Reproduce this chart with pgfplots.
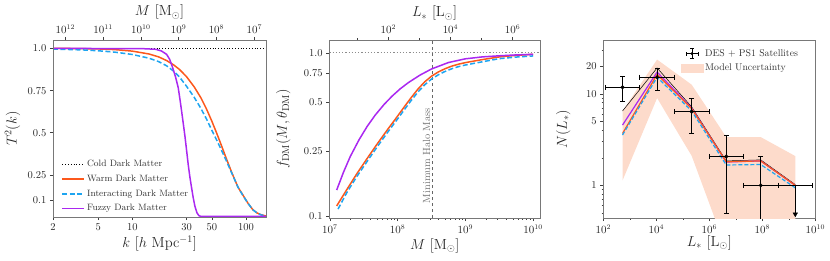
\documentclass[border=0pt]{standalone}
\usepackage{pgfplots}
\pgfplotsset{compat=1.18}
\definecolor{cOrange}{RGB}{252,88,28}
\definecolor{cBlue}{RGB}{30,165,240}
\definecolor{cPurple}{RGB}{170,40,240}
\definecolor{cBand}{RGB}{253,219,203}
\definecolor{cFrame}{RGB}{120,120,120}
\pgfplotsset{
  base/.style={
    scale only axis, width=212pt, height=177pt,
    axis line style={cFrame, line width=0.8pt},
    tick style={black!75, line width=0.6pt},
    tick align=outside, major tick length=3.2pt, minor tick length=1.8pt,
    tick label style={font=\fontsize{10.5}{12}\selectfont, text=black!85},
    label style={font=\fontsize{14.6}{17}\selectfont, text=black!85},
    tick pos=left,
  },
}
\begin{document}
\begin{tikzpicture}
\path[use as bounding box] (0pt,0pt) rectangle (830pt,260pt);

% ---------------- Panel 1 ----------------
\begin{axis}[base, at={(53pt,43pt)}, anchor=south west, width=213pt, height=177pt,
  xmode=log, xmin=2, xmax=150, ymin=0, ymax=1.05,
  xtick={2,5,10,30,50,100}, xticklabels={2,5,10,30,50,100},
  ytick={0.1,0.25,0.5,0.75,1}, yticklabels={0.1,0.25,0.5,0.75,1.0},
  xlabel={$k$ [$h$ Mpc$^{-1}$]}, ylabel={$T^2(k)$},
  xlabel style={at={(axis description cs:0.5,-0.15)}, anchor=center},
  ylabel style={at={(axis description cs:-0.19,0.5)}, anchor=center},
  legend cell align=left,
  legend style={draw=none, fill=none, at={(axis description cs:0.035,0.008)}, anchor=south west,
    font=\fontsize{9.2}{10}\selectfont, text=black!80, row sep=2.8pt, inner sep=1pt},
]
\addlegendimage{legend image code/.code={\draw[black, line width=0.8pt, dotted] (0pt,0pt) -- (22pt,0pt);}}
\addlegendentry{Cold Dark Matter}
\addlegendimage{legend image code/.code={\draw[cOrange, line width=1.5pt] (0pt,0pt) -- (22pt,0pt);}}
\addlegendentry{Warm Dark Matter}
\addlegendimage{legend image code/.code={\draw[cBlue, line width=1.5pt, dash pattern=on 5pt off 2.5pt] (0pt,0pt) -- (22pt,0pt);}}
\addlegendentry{Interacting Dark Matter}
\addlegendimage{legend image code/.code={\draw[cPurple, line width=1.5pt] (0pt,0pt) -- (22pt,0pt);}}
\addlegendentry{Fuzzy Dark Matter}
\addplot[black, line width=0.8pt, dotted, forget plot] coordinates {(2,1) (150,1)};
\addplot[cOrange, line width=1.5pt, forget plot] coordinates {
(2,1.000) (3,0.9995) (4,0.998) (5,0.997) (7,0.993) (10,0.984) (14,0.967) (17,0.950)
(20,0.928) (23,0.903) (26,0.875) (30,0.832) (35,0.772) (40,0.708) (45,0.639) (50,0.569)
(55,0.500) (60,0.434) (67,0.348) (75,0.263) (85,0.177) (95,0.125) (100,0.100) (105,0.078)
(115,0.043) (125,0.024) (135,0.014) (150,0.006)};
\addplot[cBlue, line width=1.5pt, dash pattern=on 5pt off 2.5pt, forget plot] coordinates {
(2,0.996) (3,0.993) (4,0.990) (5,0.986) (7,0.978) (10,0.964) (14,0.942) (17,0.922)
(20,0.897) (23,0.866) (26,0.830) (30,0.775) (35,0.710) (40,0.645) (45,0.580) (50,0.515)
(55,0.458) (60,0.405) (67,0.335) (75,0.260) (85,0.177) (95,0.122) (100,0.100) (105,0.078)
(115,0.043) (125,0.024) (135,0.013) (150,0.005)};
\addplot[cPurple, line width=1.5pt, forget plot] coordinates {
(2,1.0) (12,0.999) (16,0.995) (18,0.985) (20,0.965) (21.3,0.935) (22.5,0.89) (24,0.83)
(25.3,0.768) (26.2,0.70) (27.1,0.629) (28.1,0.55) (29,0.48) (30,0.395) (31,0.311)
(32.1,0.235) (33.2,0.173) (34.3,0.115) (35.5,0.064) (37,0.025) (38.5,0.008) (40,0.004) (150,0.004)};
\end{axis}
% top scale of panel 1: -log10(M)
\begin{axis}[base, at={(53pt,43pt)}, anchor=south west, width=213pt, height=177pt,
  xmin=-12.325, xmax=-6.69, ymin=0, ymax=1,
  xtick pos=right, xticklabel pos=right, ytick=\empty,
  xtick={-12,-11,-10,-9,-8,-7},
  xticklabels={$10^{12}$,$10^{11}$,$10^{10}$,$10^{9}$,$10^{8}$,$10^{7}$},
  xlabel={$M$ [M$_\odot$]},
  xlabel style={at={(axis description cs:0.5,1.157)}, anchor=center},
]
\addplot[draw=none] coordinates {(-9,0.5)};
\end{axis}

% ---------------- Panel 2 ----------------
\begin{axis}[base, at={(329.3pt,42pt)}, anchor=south west, width=210.7pt, height=178pt,
  xmode=log, ymode=log, xmin=9.8e6, xmax=1.26e10, ymin=0.097, ymax=1.2,
  xtick={1e7,1e8,1e9,1e10},
  ytick={0.1,0.25,0.5,0.75,1}, yticklabels={0.1,0.25,0.5,0.75,1.0},
  xlabel={$M$ [M$_\odot$]}, ylabel={$f_{\mathrm{DM}}(M,\theta_{\mathrm{DM}})$},
  xlabel style={at={(axis description cs:0.5,-0.155)}, anchor=center},
  ylabel style={at={(axis description cs:-0.218,0.5)}, anchor=center},
]
\addplot[black!45, line width=1.2pt, dotted] coordinates {(9.8e6,1) (1.26e10,1)};
\addplot[black!60, dashed, line width=0.6pt] coordinates {(3.2e8,0.097) (3.2e8,1.2)};
\node[rotate=90, anchor=south west, font=\fontsize{10.4}{12}\selectfont, text=black!55, inner sep=1.5pt]
  at (axis cs:3.2e8,0.117) {Minimum Halo Mass};
\addplot[cOrange, line width=1.5pt] coordinates {
(1.259e7,0.115) (1.778e7,0.145) (2.512e7,0.182) (3.548e7,0.225) (5.012e7,0.277) (7.079e7,0.338)
(1e8,0.41) (1.259e8,0.468) (1.585e8,0.532) (1.995e8,0.60) (2.512e8,0.665) (3.162e8,0.72)
(3.981e8,0.764) (5.012e8,0.80) (6.310e8,0.83) (7.943e8,0.853) (1e9,0.872) (1.778e9,0.91)
(3.162e9,0.945) (5.623e9,0.966) (1e10,0.98)};
\addplot[cBlue, line width=1.5pt, dash pattern=on 5pt off 2.5pt] coordinates {
(1.318e7,0.110) (1.778e7,0.139) (2.512e7,0.175) (3.548e7,0.216) (5.012e7,0.266) (7.079e7,0.325)
(1e8,0.394) (1.259e8,0.449) (1.585e8,0.511) (1.995e8,0.576) (2.512e8,0.638) (3.162e8,0.691)
(3.981e8,0.734) (5.012e8,0.77) (6.310e8,0.80) (7.943e8,0.824) (1e9,0.843) (1.778e9,0.882)
(3.162e9,0.922) (5.623e9,0.943) (1e10,0.958)};
\addplot[cPurple, line width=1.5pt] coordinates {
(1.259e7,0.144) (1.585e7,0.185) (1.995e7,0.231) (2.692e7,0.293) (3.548e7,0.354) (4.677e7,0.416)
(6.310e7,0.483) (8.318e7,0.544) (1.096e8,0.603) (1.445e8,0.658) (2.138e8,0.731) (3.162e8,0.797)
(5.623e8,0.873) (1e9,0.92) (1.778e9,0.945) (3.162e9,0.96) (5.623e9,0.972) (1e10,0.98)};
\end{axis}
\begin{axis}[base, at={(329.3pt,42pt)}, anchor=south west, width=210.7pt, height=178pt,
  xmode=log, xmin=1.27, xmax=7.55e6, ymin=0, ymax=1,
  xtick pos=right, xticklabel pos=right, ytick=\empty,
  xtick={1e2,1e4,1e6}, minor xtick={1e1,1e3,1e5},
  xlabel={$L_*$ [L$_\odot$]},
  xlabel style={at={(axis description cs:0.5,1.15)}, anchor=center},
]
\addplot[draw=none] coordinates {(1e3,0.5)};
\end{axis}

% ---------------- Panel 3 ----------------
\begin{axis}[base, at={(603.3pt,42pt)}, anchor=south west, width=212pt, height=178pt,
  xmode=log, ymode=log, xmin=100, xmax=1e10, ymin=0.44, ymax=38.8,
  xtick={1e2,1e4,1e6,1e8,1e10}, minor xtick={1e3,1e5,1e7,1e9},
  ytick={1,5,10,20}, yticklabels={1,5,10,20},
  minor ytick={0.5,0.6,0.7,0.8,0.9,2,3,4,6,7,8,9,30},
  xlabel={$L_*$ [L$_\odot$]}, ylabel={$N(L_*)$},
  xlabel style={at={(axis description cs:0.5,-0.14)}, anchor=center},
  ylabel style={at={(axis description cs:-0.189,0.5)}, anchor=center},
  legend cell align=left,
  legend style={draw=none, fill=none, at={(axis description cs:0.36,0.965)}, anchor=north west,
    font=\fontsize{9.8}{11}\selectfont, text=black!80, row sep=2pt, inner sep=1pt},
]
\addlegendimage{legend image code/.code={
  \draw[black, line width=0.8pt] (5pt,0pt) -- (17pt,0pt);
  \draw[black, line width=0.8pt] (11pt,-5pt) -- (11pt,5pt);
  \draw[black, line width=0.8pt] (5pt,-2pt) -- (5pt,2pt);
  \draw[black, line width=0.8pt] (17pt,-2pt) -- (17pt,2pt);
  \draw[black, line width=0.8pt] (9pt,-5pt) -- (13pt,-5pt);
  \draw[black, line width=0.8pt] (9pt,5pt) -- (13pt,5pt);
  \fill[black] (11pt,0pt) circle (1.3pt);}}
\addlegendentry{DES + PS1 Satellites}
\addlegendimage{legend image code/.code={\fill[cBand] (0pt,-4pt) rectangle (22pt,4pt);}}
\addlegendentry{Model Uncertainty}
% band
\addplot[fill=cBand, draw=none, forget plot] coordinates {
(531,6.5) (1.072e4,23.7) (2.163e5,12.6) (4.365e6,3.37) (8.71e7,3.37) (1.758e9,2.09)
(1.758e9,0.1) (8.71e7,0.1) (4.365e6,0.2) (2.163e5,2.1) (1.072e4,9.0) (531,1.13)} -- cycle;
% models
\addplot[black, line width=0.5pt, forget plot] coordinates {
(531,6.5) (1.072e4,19.2) (2.163e5,7.2) (4.365e6,1.85) (8.71e7,1.9) (1.758e9,1.02)};
\addplot[cPurple, line width=1.2pt, forget plot] coordinates {
(531,4.56) (1.072e4,17.3) (2.163e5,7.0) (4.365e6,1.8) (8.71e7,1.85) (1.758e9,1.0)};
\addplot[cOrange, line width=1.2pt, forget plot] coordinates {
(531,3.69) (1.072e4,16.3) (2.163e5,6.9) (4.365e6,1.81) (8.71e7,1.85) (1.758e9,1.0)};
\addplot[cBlue, line width=1.2pt, dash pattern=on 4pt off 2pt, forget plot] coordinates {
(531,3.55) (1.072e4,15.2) (2.163e5,6.5) (4.365e6,1.67) (8.71e7,1.69) (1.758e9,0.94)};
% vertical error bars
\addplot[black, line width=0.8pt, mark=-, mark size=2.5pt, forget plot] coordinates {(531,8.3) (531,15.6)};
\addplot[black, line width=0.8pt, mark=-, mark size=2.5pt, forget plot] coordinates {(1.072e4,11.0) (1.072e4,19.2)};
\addplot[black, line width=0.8pt, mark=-, mark size=2.5pt, forget plot] coordinates {(2.163e5,3.7) (2.163e5,8.9)};
\addplot[black, line width=0.8pt, mark=-, mark size=2.5pt, forget plot] coordinates {(4.365e6,0.50) (4.365e6,3.55)};
\addplot[black, line width=0.8pt, forget plot] coordinates {(8.71e7,0.3) (8.71e7,2.06)};
\addplot[black, line width=0.8pt, mark=-, mark size=2.5pt, forget plot] coordinates {(8.71e7,2.06)};
% horizontal error bars
\addplot[black, line width=0.8pt, mark=|, mark size=2.5pt, forget plot] coordinates {(118.2,11.8) (2385,11.8)};
\addplot[black, line width=0.8pt, mark=|, mark size=2.5pt, forget plot] coordinates {(2385,15.2) (4.814e4,15.2)};
\addplot[black, line width=0.8pt, mark=|, mark size=2.5pt, forget plot] coordinates {(4.814e4,6.4) (9.716e5,6.4)};
\addplot[black, line width=0.8pt, mark=|, mark size=2.5pt, forget plot] coordinates {(9.716e5,2.07) (1.961e7,2.07)};
\addplot[black, line width=0.8pt, mark=|, mark size=2.5pt, forget plot] coordinates {(1.961e7,1.0) (3.958e8,1.0)};
\addplot[black, line width=0.8pt, mark=|, mark size=2.5pt, forget plot] coordinates {(3.958e8,1.0) (7.99e9,1.0)};
% upper limit arrow
\addplot[black, line width=0.8pt, forget plot] coordinates {(1.758e9,1.0) (1.758e9,0.49)};
\addplot[black, only marks, mark=triangle*, mark size=2.6pt, mark options={rotate=180}, forget plot] coordinates {(1.758e9,0.485)};
% points
\addplot[black, only marks, mark=*, mark size=1.8pt, forget plot] coordinates {
(531,11.8) (1.072e4,15.2) (2.163e5,6.4) (4.365e6,2.07) (8.71e7,1.0)};
\end{axis}
\end{tikzpicture}
\end{document}
